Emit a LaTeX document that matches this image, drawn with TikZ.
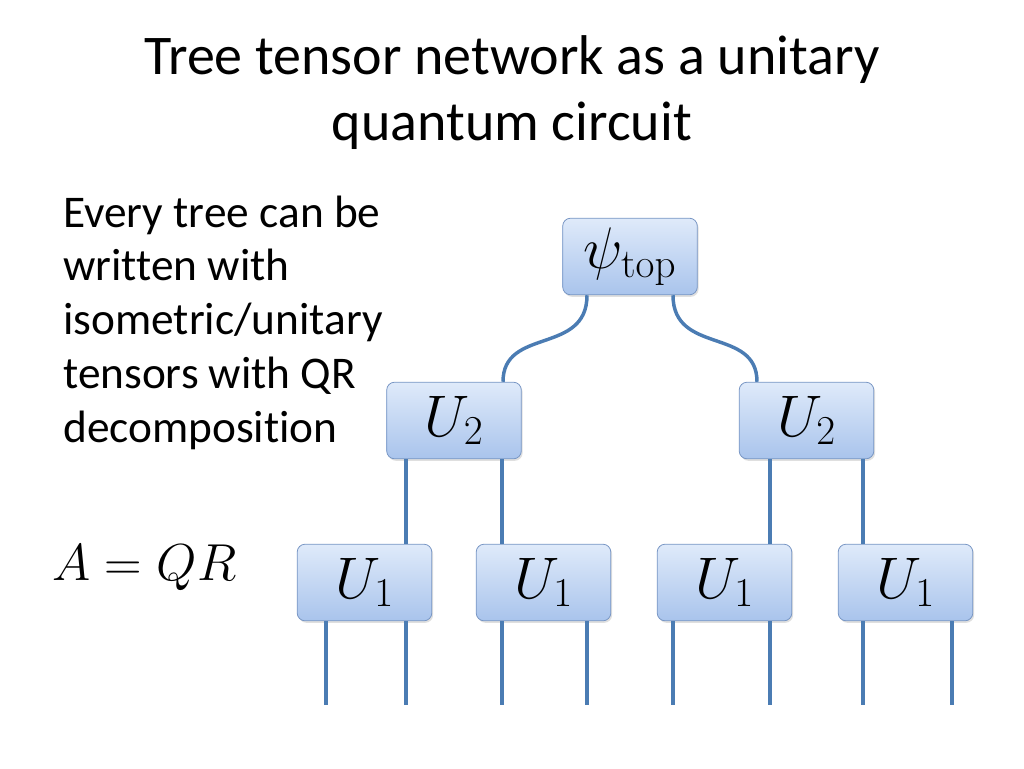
\RequirePackage{fix-cm}
\documentclass[tikz,border=0pt]{standalone}
\usepackage[no-math]{fontspec}
\setmainfont[Ligatures=NoCommon]{Carlito}
\usetikzlibrary{shadows}
\definecolor{boxtop}{HTML}{DFEAFA}
\definecolor{boxbot}{HTML}{A9C4EC}
\definecolor{boxline}{HTML}{7896C4}
\definecolor{wire}{HTML}{4B7CB3}
\begin{document}
\begin{tikzpicture}[x=0.75pt,y=-0.75pt]
        \tikzstyle{tensor}=[rectangle,rounded corners=6pt,draw=boxline,line width=0.6pt,top color=boxtop,bottom color=boxbot,minimum width=101pt,minimum height=57.5pt,inner sep=0pt,font=\fontsize{44}{48}\selectfont,drop shadow={opacity=0.25,shadow xshift=1pt,shadow yshift=-1.5pt}]
        \tikzstyle{edge}=[draw=wire,line width=2.6pt]
        \useasboundingbox (0,0) rectangle (1024,768);

        \node[align=center,anchor=base,font=\fontsize{42}{49.5}\selectfont] (title) at (512,140) {Tree tensor network as a unitary\\quantum circuit};
        \node[align=left,anchor=base west,font=\fontsize{34}{40.3}\selectfont,inner sep=0pt] (txt) at (63,442) {Every tree can be\\written with\\isometric/unitary\\tensors with QR\\decomposition};
        \node[anchor=base west,inner sep=0pt,font=\fontsize{39}{44}\selectfont] (eq) at (52,580) {$A = QR$};

       \begin{scope}
         \node [tensor] (top) at (630,256.5) {$\psi_{\mathrm{top}}$};
         \node [tensor] (u2l) at (454,420.5) {$U_2$};
         \node [tensor] (u2r) at (806.5,420.5) {$U_2$};
         \node [tensor] (u1a) at (364.5,582.5) {$U_1$};
         \node [tensor] (u1b) at (543.5,582.5) {$U_1$};
         \node [tensor] (u1c) at (724.5,582.5) {$U_1$};
         \node [tensor] (u1d) at (905.5,582.5) {$U_1$};

         % wire positions
         \coordinate (c1) at (587,0);
         \coordinate (c2) at (503,0);
         \coordinate (c3) at (673,0);
         \coordinate (c4) at (757,0);
         \coordinate (w1) at (406,0);
         \coordinate (w2) at (502,0);
         \coordinate (w3) at (770,0);
         \coordinate (w4) at (863,0);

         \path[edge] (top.south -| c1) .. controls +(0,60) and +(0,-55) .. (u2l.north -| c2);
         \path[edge] (top.south -| c3) .. controls +(0,60) and +(0,-55) .. (u2r.north -| c4);

         \path[edge] (u2l.south -| w1) -- (u1a.north -| w1);
         \path[edge] (u2l.south -| w2) -- (u1b.north -| w2);
         \path[edge] (u2r.south -| w3) -- (u1c.north -| w3);
         \path[edge] (u2r.south -| w4) -- (u1d.north -| w4);

         % open legs
         \coordinate (l1) at (326,705);
         \coordinate (l2) at (406,705);
         \coordinate (l3) at (502,705);
         \coordinate (l4) at (587,705);
         \coordinate (l5) at (673,705);
         \coordinate (l6) at (770,705);
         \coordinate (l7) at (863,705);
         \coordinate (l8) at (952,705);

         \path[edge] (u1a.south -| l1) -- (l1);
         \path[edge] (u1a.south -| l2) -- (l2);
         \path[edge] (u1b.south -| l3) -- (l3);
         \path[edge] (u1b.south -| l4) -- (l4);
         \path[edge] (u1c.south -| l5) -- (l5);
         \path[edge] (u1c.south -| l6) -- (l6);
         \path[edge] (u1d.south -| l7) -- (l7);
         \path[edge] (u1d.south -| l8) -- (l8);
        \end{scope}
      \end{tikzpicture}
\end{document}
